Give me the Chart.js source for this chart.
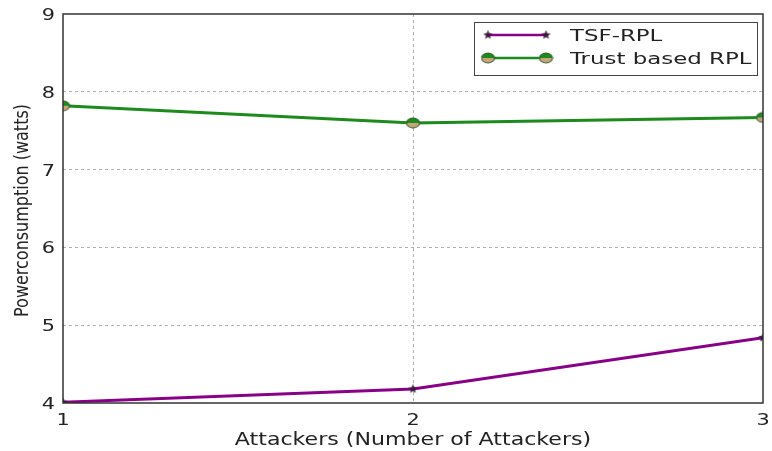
<!DOCTYPE html>
<html>
<head>
<meta charset="utf-8">
<script src="https://cdn.jsdelivr.net/npm/chart.js@4.4.0/dist/chart.umd.min.js"></script>
<style>
  html, body { margin: 0; padding: 0; background: #fff; }
  #wrap { width: 772px; height: 451px; }
</style>
</head>
<body>
<div id="wrap"><canvas id="power"></canvas></div>
<script>
// attackers on the x axis, power in watts on the y axis
const attackers = [1, 2, 3];
const tsfRpl = [4.01, 4.18, 4.84];
const trustRpl = [7.82, 7.60, 7.67];
const yTicks = [4, 5, 6, 7, 8, 9];
const seriesNames = ["TSF-RPL", "Trust based RPL"];
const xTitle = "Attackers (Number of Attackers)";
const yTitle = "Powerconsumption (watts)";

const purple = "#880088";
const green = "#1c8a1c";
const textColor = "#222";
const font = "DejaVu Sans";

//star marker for TSF-RPL
function starMarker(size, color) {
    const c = document.createElement("canvas");
    c.width = size; c.height = size;
    const g = c.getContext("2d");
    const cx = size / 2, cy = size / 2, ro = size / 2 - 0.5, ri = ro * 0.42;
    g.beginPath();
    for (let i = 0; i < 10; i++) {
        const r = i % 2 ? ri : ro;
        const a = -Math.PI / 2 + i * Math.PI / 5;
        g.lineTo(cx + r * Math.cos(a), cy + r * Math.sin(a));
    }
    g.closePath();
    g.fillStyle = color;
    g.fill();
    return c;
}

//circle marker, green top half and tan bottom half
function halfCircleMarker(w, h) {
    const c = document.createElement("canvas");
    c.width = w; c.height = h;
    const g = c.getContext("2d");
    g.save();
    g.translate(w / 2, h / 2);
    g.scale((w - 2) / (h - 2), 1);
    const r = h / 2 - 1;
    g.beginPath();
    g.arc(0, 0, r, Math.PI, 0);
    g.fillStyle = green;
    g.fill();
    g.beginPath();
    g.arc(0, 0, r, 0, Math.PI);
    g.fillStyle = "#c9a47a";
    g.fill();
    g.beginPath();
    g.arc(0, 0, r, 0, Math.PI * 2);
    g.strokeStyle = "#2d5a2d";
    g.lineWidth = 0.8;
    g.stroke();
    g.restore();
    return c;
}

const star = starMarker(11, "#3a1a3a");
const circ = halfCircleMarker(15, 12);

//text drawn a little wider than the font, like the exported figure
function wideText(ctx, text, x, y, size, sx, align) {
    ctx.save();
    ctx.translate(x, y);
    ctx.scale(sx, 1);
    ctx.font = size + "px '" + font + "'";
    ctx.fillStyle = textColor;
    ctx.textAlign = align;
    ctx.textBaseline = "alphabetic";
    ctx.fillText(text, 0, 0);
    ctx.restore();
}

//frame, tick labels, titles and the boxed legend
const framePlugin = {
    id: "frame",
    afterDraw(chart) {
        const ctx = chart.ctx;
        const a = chart.chartArea;
        const xs = chart.scales.x, ys = chart.scales.y;
        ctx.save();
        ctx.strokeStyle = "#333";
        ctx.lineWidth = 1.5;
        ctx.strokeRect(a.left, a.top, a.right - a.left, a.bottom - a.top);

        //tick labels
        attackers.forEach((v) => wideText(ctx, String(v), xs.getPixelForValue(v), a.bottom + 22, 16, 1.3, "center"));
        yTicks.forEach((v) => wideText(ctx, String(v), a.left - 8, ys.getPixelForValue(v) + 6, 16, 1.3, "right"));

        //axis titles
        wideText(ctx, xTitle, (a.left + a.right) / 2, a.bottom + 42, 17, 1.3, "center");
        ctx.save();
        ctx.translate(28, (a.top + a.bottom) / 2 + 2);
        ctx.rotate(-Math.PI / 2);
        ctx.scale(1, 1.2);
        ctx.font = "16px '" + font + "'";
        ctx.fillStyle = textColor;
        ctx.textAlign = "center";
        ctx.fillText(yTitle, 0, 0);
        ctx.restore();

        //legend
        const bx = 474, by = 22, bw = 283, bh = 53;
        ctx.fillStyle = "#fff";
        ctx.fillRect(bx, by, bw, bh);
        ctx.strokeStyle = "#444";
        ctx.lineWidth = 1;
        ctx.strokeRect(bx + 0.5, by + 0.5, bw, bh);
        const rows = [
            { label: seriesNames[0], color: purple, marker: star, y: 35 },
            { label: seriesNames[1], color: green, marker: circ, y: 58 }
        ];
        rows.forEach((r) => {
            ctx.strokeStyle = r.color;
            ctx.lineWidth = 2.5;
            ctx.beginPath();
            ctx.moveTo(488, r.y);
            ctx.lineTo(546, r.y);
            ctx.stroke();
            [488, 546].forEach((px) => {
                ctx.drawImage(r.marker, px - r.marker.width / 2, r.y - r.marker.height / 2);
            });
            wideText(ctx, r.label, 570, r.y + 6, 16, 1.43, "left");
        });
        ctx.restore();
    }
};

const ctx = document.getElementById("power").getContext("2d");

const chart = new Chart(ctx, {
    type: "line",
    data: {
        datasets: [
            {
                label: seriesNames[0],
                data: attackers.map((x, i) => ({ x: x, y: tsfRpl[i] })),
                borderColor: purple,
                backgroundColor: purple,
                borderWidth: 3,
                pointStyle: star,
                pointRadius: 5,
                clip: 0,
            },
            {
                label: seriesNames[1],
                data: attackers.map((x, i) => ({ x: x, y: trustRpl[i] })),
                borderColor: green,
                backgroundColor: green,
                borderWidth: 3,
                pointStyle: circ,
                pointRadius: 6,
                clip: 0,
            },
        ],
    },
    options: {
        responsive: true,
        maintainAspectRatio: false,
        animation: false,
        layout: { padding: { left: 0, right: 4, top: 14, bottom: 0 } },
        plugins: {
            legend: { display: false },
            tooltip: { enabled: false },
        },
        scales: {
            x: {
                type: "linear",
                min: 1,
                max: 3,
                afterBuildTicks: (axis) => { axis.ticks = attackers.map((v) => ({ value: v })); },
                afterFit: (axis) => { axis.height = 48; },
                border: { display: false, dash: [3, 3] },
                grid: {
                    color: (c) => (c.tick && c.tick.value === 2 ? "#b0b0b0" : "rgba(0,0,0,0)"),
                    lineWidth: 1,
                    drawTicks: false,
                },
                ticks: { display: false },
            },
            y: {
                min: 4,
                max: 9,
                afterBuildTicks: (axis) => { axis.ticks = yTicks.map((v) => ({ value: v })); },
                afterFit: (axis) => { axis.width = 63; },
                border: { display: false, dash: [3, 3] },
                grid: {
                    color: (c) => (c.tick && c.tick.value > 4 && c.tick.value < 9 ? "#b0b0b0" : "rgba(0,0,0,0)"),
                    lineWidth: 1,
                    drawTicks: false,
                },
                ticks: { display: false },
            },
        },
    },
    plugins: [framePlugin],
});
</script>
</body>
</html>
